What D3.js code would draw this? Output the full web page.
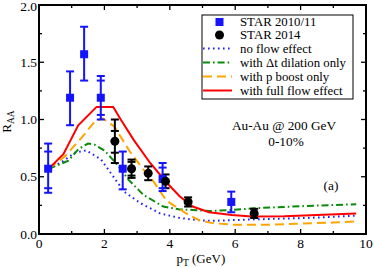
<!DOCTYPE html>
<html>
<head>
<meta charset="utf-8">
<script src="https://cdn.jsdelivr.net/npm/d3@7"></script>
<style>
  body { margin: 0; background: #fff; }
  svg { display: block; font-family: 'Liberation Serif', 'Times New Roman', serif; }
</style>
</head>
<body>
<div class="canvas"></div>
<script>
// STAR 2010/11 (blue squares), error ends: outer + inner caps
const star1011X  = [0.28, 0.95, 1.38, 1.89, 2.56, 3.78, 5.88]
const star1011Y  = [0.57, 1.19, 1.57, 1.19, 0.57, 0.48, 0.28]
const star1011Lo = [[0.36, 0.40], [0.95], [1.34], [1.00, 1.04], [0.39], [0.375, 0.40], [0.19]]
const star1011Hi = [[0.79, 0.72], [1.42], [1.81], [1.38, 1.34], [0.72], [0.62, 0.58], [0.37]]

// STAR 2014 (black circles)
const star2014X  = [2.32, 2.83, 3.34, 3.87, 4.56, 6.58]
const star2014Y  = [0.81, 0.57, 0.53, 0.46, 0.28, 0.18]
const star2014Lo = [[0.62, 0.71], [0.49, 0.51], [0.47], [0.40], [0.24], [0.14]]
const star2014Hi = [[1.00, 0.90], [0.65, 0.63], [0.59], [0.52], [0.32], [0.22]]

// model curves: [pT, RAA]
const noFlow = [[0.3,0.57],[0.7,0.63],[1.1,0.71],[1.45,0.73],[1.9,0.65],[2.2,0.53],[2.6,0.37],[3.1,0.27],[3.7,0.18],[4.3,0.14],[4.9,0.12],[5.3,0.115],[6.6,0.128],[8.2,0.14],[9.7,0.16]]
const dilation = [[0.3,0.57],[0.9,0.64],[1.2,0.74],[1.5,0.79],[1.7,0.78],[2.0,0.73],[2.35,0.62],[2.75,0.47],[3.2,0.34],[3.8,0.24],[4.3,0.215],[4.7,0.21],[5.2,0.2],[5.9,0.21],[6.6,0.225],[8.2,0.245],[9.7,0.26]]
const boost = [[0.3,0.57],[0.8,0.68],[1.3,0.84],[1.7,0.98],[1.95,1.01],[2.3,0.94],[2.8,0.71],[3.2,0.56],[3.5,0.46],[3.9,0.29],[4.5,0.18],[4.9,0.12],[5.3,0.095],[6,0.08],[7,0.08],[8,0.09],[9,0.1],[9.7,0.11]]
const fullFlow = [[0.3,0.57],[0.75,0.70],[1.2,0.95],[1.76,1.11],[2.27,1.11],[2.5,1.0],[2.9,0.82],[3.4,0.62],[3.9,0.45],[4.3,0.33],[4.7,0.24],[5.2,0.19],[5.9,0.165],[6.5,0.152],[7.5,0.155],[8.5,0.165],[9.7,0.18]]

const legendLabels = ['STAR 2010/11', 'STAR 2014', 'no flow effect', 'with \u0394t dilation only', 'with p boost only', 'with full flow effect']
const xTicks = [0, 2, 4, 6, 8, 10]
const yTicks = [0, 0.5, 1.0, 1.5, 2.0]

const margin = { top: 5, right: 8, bottom: 33, left: 39 }
const width = 374 - margin.left - margin.right
const height = 267 - margin.top - margin.bottom

const svg = d3.select('.canvas').append('svg')
    .attr('width', 374)
    .attr('height', 267)

const graph = svg.append('g')
    .attr('transform', `translate(${margin.left}, ${margin.top})`)

const x = d3.scaleLinear().domain([0, 10]).range([0, width])
const y = d3.scaleLinear().domain([0, 2]).range([height, 0])

// ticks (inside, all four sides)
const xMinor = d3.range(0, 10.01, 1)
const yMinor = d3.range(0, 2.01, 0.25)
const tickG = graph.append('g').attr('stroke', '#000').attr('stroke-width', 1.3)
xMinor.forEach(v => {
    const len = v % 2 === 0 ? 5 : 3
    tickG.append('line').attr('x1', x(v)).attr('x2', x(v)).attr('y1', height).attr('y2', height - len)
    tickG.append('line').attr('x1', x(v)).attr('x2', x(v)).attr('y1', 0).attr('y2', len)
})
yMinor.forEach(v => {
    const len = Math.abs(v * 2 - Math.round(v * 2)) < 1e-6 ? 5 : 3
    tickG.append('line').attr('y1', y(v)).attr('y2', y(v)).attr('x1', 0).attr('x2', len)
    tickG.append('line').attr('y1', y(v)).attr('y2', y(v)).attr('x1', width).attr('x2', width - len)
})

// tick labels
graph.selectAll('.xt').data(xTicks).enter().append('text')
    .attr('x', d => x(d)).attr('y', height + 14)
    .attr('text-anchor', 'middle').attr('font-size', 13.5)
    .text(d => d)
graph.selectAll('.yt').data(yTicks).enter().append('text')
    .attr('x', -2).attr('y', d => Math.max(y(d) + 4.5, 6))
    .attr('text-anchor', 'end').attr('font-size', 13.5)
    .text(d => d.toFixed(1))

// axis titles
const xt = graph.append('text').attr('x', x(4.95)).attr('y', height + 29)
    .attr('text-anchor', 'middle').attr('font-size', 13)
xt.append('tspan').text('p')
xt.append('tspan').attr('font-size', 9.5).attr('dy', 3).text('T')
xt.append('tspan').attr('dy', -3).text(' (GeV)')

const yt = graph.append('text')
    .attr('transform', `translate(${-28}, ${y(1.0) + 2}) rotate(-90)`)
    .attr('text-anchor', 'middle').attr('font-size', 13)
yt.append('tspan').text('R')
yt.append('tspan').attr('font-size', 9.5).attr('dy', 3).text('AA')

// model curves
const line = d3.line().x(d => x(d[0])).y(d => y(d[1]))
const curves = [
    { data: noFlow, color: '#1f1fff', dash: '1.6,3.4' },
    { data: dilation, color: '#0a8a0a', dash: '7,3,1.6,3' },
    { data: boost, color: '#ffa500', dash: '9,5' },
    { data: fullFlow, color: '#ff0000', dash: null }
]
curves.forEach(c => {
    graph.append('path').datum(c.data)
        .attr('fill', 'none')
        .attr('stroke', c.color)
        .attr('stroke-width', 2)
        .attr('stroke-dasharray', c.dash)
        .attr('d', line)
})

// error bars
function errorBars(xs, ys, los, his, color) {
    const g = graph.append('g').attr('stroke', color).attr('stroke-width', 2)
    xs.forEach((xv, i) => {
        const lo = d3.min(los[i]), hi = d3.max(his[i])
        g.append('line').attr('x1', x(xv)).attr('x2', x(xv)).attr('y1', y(lo)).attr('y2', y(hi))
        los[i].concat(his[i]).forEach(v => {
            g.append('line').attr('x1', x(xv) - 4).attr('x2', x(xv) + 4).attr('y1', y(v)).attr('y2', y(v))
        })
    })
}
errorBars(star2014X, star2014Y, star2014Lo, star2014Hi, '#000')
errorBars(star1011X, star1011Y, star1011Lo, star1011Hi, '#1414ff')

graph.selectAll('.sq').data(star1011X).enter().append('rect')
    .attr('x', (d, i) => x(d) - 4).attr('y', (d, i) => y(star1011Y[i]) - 4)
    .attr('width', 8).attr('height', 8).attr('fill', '#1414ff')
graph.selectAll('.cir').data(star2014X).enter().append('circle')
    .attr('cx', d => x(d)).attr('cy', (d, i) => y(star2014Y[i]))
    .attr('r', 4.5).attr('fill', '#000')

// frame
graph.append('rect').attr('width', width).attr('height', height)
    .attr('fill', 'none').attr('stroke', '#000').attr('stroke-width', 2)

// legend
const lg = svg.append('g').attr('transform', 'translate(202, 15)')
lg.append('rect').attr('width', 151).attr('height', 84)
    .attr('fill', '#fff').attr('stroke', '#000').attr('stroke-width', 1)
const rowY = [7, 20, 33.5, 47.5, 61.5, 75.5]
legendLabels.forEach((lab, i) => {
    const cy = rowY[i]
    lg.append('text').attr('x', 38).attr('y', cy + 4.3).attr('font-size', 12.8).text(lab)
    if (i === 0) {
        lg.append('rect').attr('x', 13.5).attr('y', cy - 4).attr('width', 8).attr('height', 8).attr('fill', '#1414ff')
    } else if (i === 1) {
        lg.append('circle').attr('cx', 17.5).attr('cy', cy).attr('r', 4.5).attr('fill', '#000')
    } else {
        const c = curves[i - 2]
        lg.append('line').attr('x1', 1).attr('x2', 30).attr('y1', cy).attr('y2', cy)
            .attr('stroke', c.color).attr('stroke-width', 2).attr('stroke-dasharray', c.dash)
    }
})

// annotations
svg.append('text').attr('x', 284).attr('y', 130).attr('text-anchor', 'middle').attr('font-size', 13.3).text('Au-Au @ 200 GeV')
svg.append('text').attr('x', 286).attr('y', 145.5).attr('text-anchor', 'middle').attr('font-size', 13.3).text('0-10%')
svg.append('text').attr('x', 331).attr('y', 190).attr('text-anchor', 'middle').attr('font-size', 13.3).text('(a)')
</script>
</body>
</html>
